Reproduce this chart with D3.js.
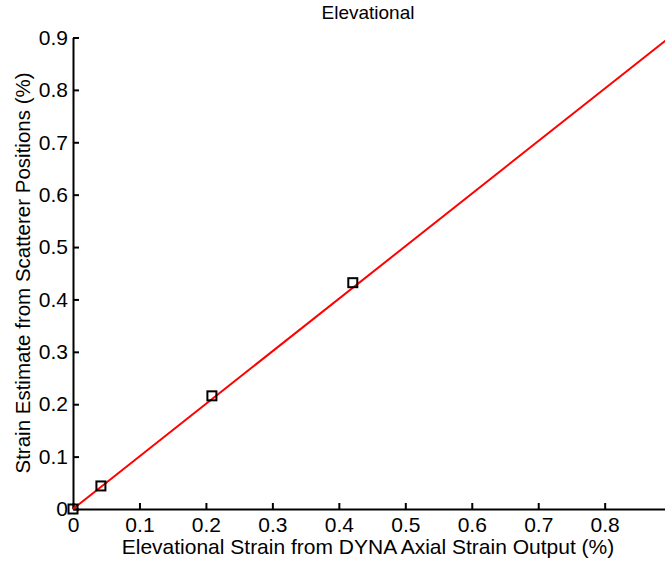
<!DOCTYPE html>
<html>
<head>
<meta charset="utf-8">
<script src="https://cdn.jsdelivr.net/npm/d3@7"></script>
<style>
  html, body { margin: 0; padding: 0; background: #fff; overflow: hidden; }
  svg { display: block; font-family: "Liberation Sans", Arial, Helvetica, sans-serif; }
</style>
</head>
<body>
<svg id="chart" width="665" height="563"></svg>
<script>
// Measured strain pairs (%): DYNA axial output vs. estimate from scatterer positions
const dynaStrain = [0, 0.042, 0.209, 0.421];
const scattererStrain = [0, 0.044, 0.216, 0.432];

// Fitted line through the measurements
const fitSlope = 1.003;
const fitX = [0, 0.9];

const xTicks = [0, 0.1, 0.2, 0.3, 0.4, 0.5, 0.6, 0.7, 0.8];
const yTicks = [0, 0.1, 0.2, 0.3, 0.4, 0.5, 0.6, 0.7, 0.8, 0.9];

const title = "Elevational";
const xLabel = "Elevational Strain from DYNA Axial Strain Output (%)";
const yLabel = "Strain Estimate from Scatterer Positions (%)";

const svg = d3.select("#chart");
const plotLeft = 73, plotBottom = 509, plotTop = 37.5;
const x = d3.scaleLinear().domain([0, 0.9]).range([plotLeft, plotLeft + 9 * 66.46]);
const y = d3.scaleLinear().domain([0, 0.9]).range([plotBottom, plotTop]);

const fmt = d => d === 0 ? "0" : d3.format(".1f")(d);

// Axes with inward ticks
const xAxis = svg.append("g")
  .attr("transform", `translate(0,${plotBottom})`)
  .call(d3.axisBottom(x).tickValues(xTicks).tickFormat(fmt).tickSize(-6).tickSizeOuter(0).tickPadding(8));
const yAxis = svg.append("g")
  .attr("transform", `translate(${plotLeft},0)`)
  .call(d3.axisLeft(y).tickValues(yTicks).tickFormat(fmt).tickSize(-6).tickSizeOuter(0).tickPadding(5));

[xAxis, yAxis].forEach(g => {
  g.select(".domain").attr("stroke", "#000").attr("stroke-width", 2);
  g.selectAll(".tick line").attr("stroke", "#000").attr("stroke-width", 2);
  g.selectAll(".tick text").attr("fill", "#000").attr("font-size", 21)
    .attr("font-family", "Liberation Sans, Arial, sans-serif");
});
xAxis.selectAll(".tick text").attr("dy", "0.71em");

// Fit line
const fitLine = d3.line().x(d => x(d)).y(d => y(d * fitSlope));
svg.append("path")
  .datum(fitX)
  .attr("d", fitLine)
  .attr("fill", "none")
  .attr("stroke", "#ff0000")
  .attr("stroke-width", 2);

// Square markers
const sq = 9;
svg.append("g").selectAll("rect")
  .data(dynaStrain.map((d, i) => [d, scattererStrain[i]]))
  .join("rect")
  .attr("x", d => x(d[0]) - sq / 2)
  .attr("y", d => y(d[1]) - sq / 2)
  .attr("width", sq)
  .attr("height", sq)
  .attr("fill", "none")
  .attr("stroke", "#000")
  .attr("stroke-width", 2);

// Titles
svg.append("text")
  .attr("x", 368).attr("y", 19)
  .attr("text-anchor", "middle")
  .attr("font-size", 19)
  .text(title);

svg.append("text")
  .attr("x", 368).attr("y", 554)
  .attr("text-anchor", "middle")
  .attr("font-size", 21)
  .text(xLabel);

svg.append("text")
  .attr("transform", `translate(30,273) rotate(-90)`)
  .attr("text-anchor", "middle")
  .attr("font-size", 20.5)
  .text(yLabel);
</script>
</body>
</html>
